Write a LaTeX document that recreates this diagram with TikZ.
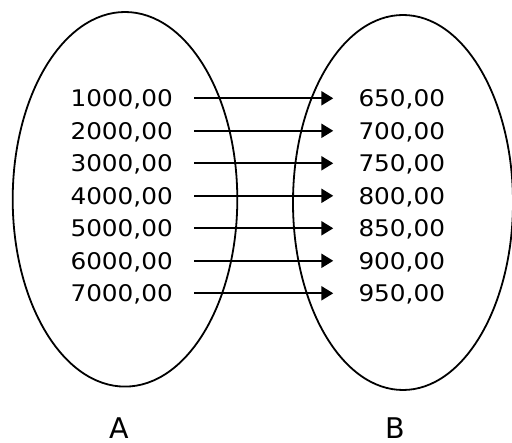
\documentclass[tikz,border=0pt]{standalone}
\usepackage{fontspec}
\setmainfont{DejaVu Sans}
\newfontfamily\numfont{DejaVu Sans}[FakeStretch=1.08]
\newfontfamily\labfont{DejaVu Sans}
\usetikzlibrary{shapes.geometric,arrows.meta}
\tikzset{
  setshape/.style={ellipse, draw=black, line width=1.8pt, inner sep=0pt},
  numtext/.style={inner sep=0pt, text height=16.7pt, text depth=0pt,
    font=\numfont\fontsize{22.9pt}{26pt}\selectfont, text=black},
  settext/.style={inner sep=0pt, anchor=base, font=\labfont\fontsize{28.5pt}{32pt}\selectfont},
  maparrow/.style={line width=2.2pt, -{Triangle[length=12pt,width=14pt]}}
}
\begin{document}
\begin{tikzpicture}[x=1pt,y=-1pt]
\useasboundingbox (0,0) rectangle (512,443);
\node[setshape, minimum width=224.6pt, minimum height=374.6pt] (setA) at (125,199.3) {};
\node[setshape, minimum width=220pt, minimum height=375pt] (setB) at (403,202.5) {};
\foreach \i/\a/\b in {1/1000/650,2/2000/700,3/3000/750,4/4000/800,5/5000/850,6/6000/900,7/7000/950}{
  \node[numtext, anchor=east] (a\i) at (173, {98.3+32.5*(\i-1)}) {\a,00};
  \node[numtext, anchor=west] (b\i) at (358.3, {98.3+32.5*(\i-1)}) {\b,00};
  \draw[maparrow] ([xshift=21.3pt]a\i.east) -- ([xshift=-25pt]b\i.west);
}
\node[settext] (labA) at (119.3,438.5) {A};
\node[settext] (labB) at (395.5,438.5) {B};
\end{tikzpicture}
\end{document}
